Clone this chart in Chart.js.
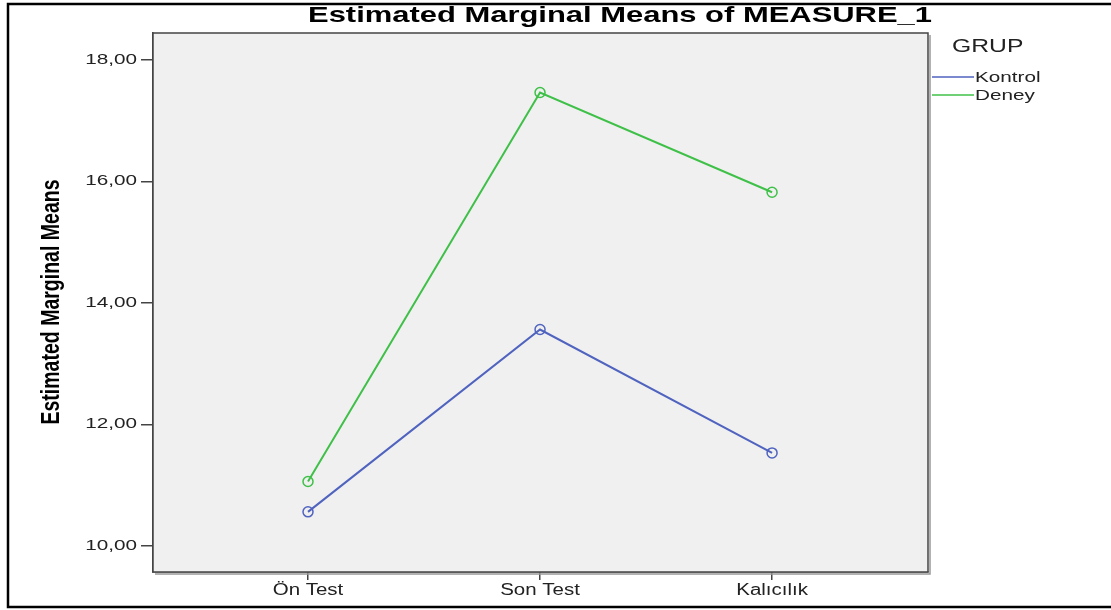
<!DOCTYPE html>
<html>
<head>
<meta charset="utf-8">
<style>
  html,body{margin:0;padding:0;background:#fff;}
  #wrap{width:1111px;height:610px;position:relative;}
</style>
<script src="https://cdn.jsdelivr.net/npm/chart.js@4.4.1/dist/chart.umd.min.js"></script>
</head>
<body>
<div id="wrap"><canvas id="c" width="1111" height="610"></canvas></div>
<script>
  // ---- data ----
  const CATS = ['Ön Test', 'Son Test', 'Kalıcılık'];
  const KONTROL = [10.56, 13.56, 11.53];
  const DENEY = [11.06, 17.46, 15.82];
  const Y_TICKS = [10, 12, 14, 16, 18];
  const TITLE = 'Estimated Marginal Means of MEASURE_1';
  const Y_TITLE = 'Estimated Marginal Means';
  const LEGEND_TITLE = 'GRUP';

  const BLUE = '#4f63bf', GREEN = '#3fc048', AXIS = '#444', FONT = '"Liberation Sans", Arial, sans-serif';

  const pts = arr => arr.map((v, i) => ({x: i, y: v}));

  // the SPSS export is stretched sideways, so text gets a horizontal scale
  function wideText(ctx, txt, x, y, sx, font, align, color, rot){
    ctx.save();
    ctx.font = font; ctx.fillStyle = color || '#222';
    ctx.textAlign = align; ctx.textBaseline = 'middle';
    ctx.translate(x, y);
    if (rot) ctx.rotate(rot);
    ctx.scale(sx, 1);
    ctx.fillText(txt, 0, 0);
    ctx.restore();
  }
  function fitText(ctx, txt, x, y, w, font, color, rot){
    ctx.save(); ctx.font = font;
    const sx = w / ctx.measureText(txt).width;
    ctx.restore();
    wideText(ctx, txt, x, y, sx, font, 'center', color, rot);
  }

  const frame = {
    id: 'frame',
    beforeDatasetsDraw(ch){
      const {ctx, chartArea: a} = ch;
      ctx.save();
      ctx.fillStyle = '#f0f0f0';
      ctx.fillRect(a.left, a.top, a.right - a.left, a.bottom - a.top);
      ctx.restore();
    },
    afterDraw(ch){
      const {ctx, chartArea: a} = ch;
      ctx.save();
      // plot box with a soft shadow on right/bottom
      ctx.strokeStyle = '#999'; ctx.lineWidth = 1.5;
      ctx.beginPath(); ctx.moveTo(a.right + 2, a.top + 2); ctx.lineTo(a.right + 2, a.bottom + 2); ctx.lineTo(a.left + 2, a.bottom + 2); ctx.stroke();
      ctx.strokeStyle = AXIS; ctx.lineWidth = 1.5;
      ctx.strokeRect(a.left, a.top, a.right - a.left, a.bottom - a.top);
      // outer border
      ctx.strokeStyle = '#000'; ctx.lineWidth = 2.5;
      ctx.strokeRect(8, 4, 1110, 603);
      ctx.restore();

      // tick labels, placed by the library's scales
      const xs = ch.scales.x, ys = ch.scales.y;
      xs.ticks.forEach(t => wideText(ctx, CATS[t.value], xs.getPixelForValue(t.value), 591, 1.28, '16px ' + FONT, 'center'));
      ys.ticks.forEach(t => wideText(ctx, t.value.toFixed(2).replace('.', ','), 137, ys.getPixelForValue(t.value), 1.38, '15px ' + FONT, 'right'));

      fitText(ctx, TITLE, 620, 16, 624, 'bold 22px ' + FONT, '#000');
      fitText(ctx, Y_TITLE, 52, 302, 245, 'bold 26px ' + FONT, '#000', -Math.PI / 2);

      // legend
      wideText(ctx, LEGEND_TITLE, 952, 47, 1.3, '19px ' + FONT, 'left');
      ch.data.datasets.forEach((d, i) => {
        const y = 77 + i * 18;
        ctx.save();
        ctx.strokeStyle = d.borderColor; ctx.lineWidth = 1.5;
        ctx.beginPath(); ctx.moveTo(932, y); ctx.lineTo(974, y); ctx.stroke();
        ctx.restore();
        wideText(ctx, d.label, 975, y + 1, 1.38, '15px ' + FONT, 'left');
      });
    }
  };

  new Chart(document.getElementById('c'), {
    type: 'line',
    data: {
      datasets: [
        {label: 'Kontrol', data: pts(KONTROL), borderColor: BLUE},
        {label: 'Deney', data: pts(DENEY), borderColor: GREEN}
      ].map(d => Object.assign(d, {
        borderWidth: 2, tension: 0, fill: false,
        pointRadius: 5, pointBorderWidth: 1.5,
        pointBackgroundColor: 'rgba(0,0,0,0)', pointBorderColor: d.borderColor
      }))
    },
    options: {
      responsive: false, animation: false,
      layout: {padding: {left: 0, right: 183, top: 33, bottom: 0}},
      plugins: {legend: {display: false}, tooltip: {enabled: false}},
      scales: {
        x: {
          type: 'linear', min: -0.668, max: 2.672,
          afterBuildTicks: s => { s.ticks = CATS.map((_, i) => ({value: i})); },
          afterFit: s => { s.height = 38; },
          grid: {drawOnChartArea: false, tickLength: 8, color: AXIS, lineWidth: 1.5},
          border: {color: AXIS, width: 1.5},
          ticks: {display: false}
        },
        y: {
          min: 9.57, max: 18.44,
          afterBuildTicks: s => { s.ticks = Y_TICKS.map(v => ({value: v})); },
          afterFit: s => { s.width = 153; },
          grid: {drawOnChartArea: false, tickLength: 12, color: AXIS, lineWidth: 1.5},
          border: {color: AXIS, width: 1.5},
          ticks: {display: false}
        }
      }
    },
    plugins: [frame]
  });
</script>
</body>
</html>
